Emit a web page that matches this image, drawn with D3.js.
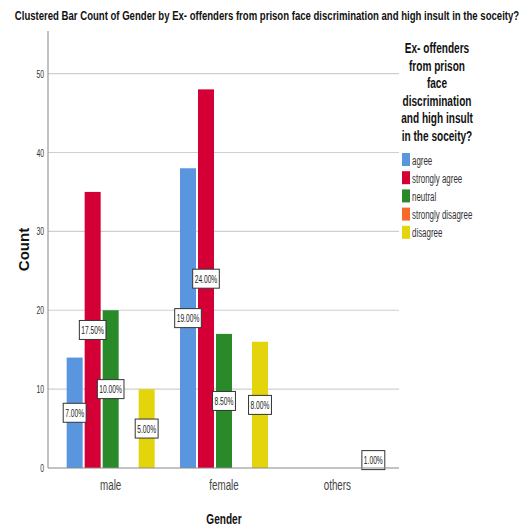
<!DOCTYPE html>
<html><head><meta charset="utf-8">
<script src="https://cdn.jsdelivr.net/npm/d3@7"></script>
<style>
body{margin:0;background:#fff;}
text{font-family:"Liberation Sans",Arial,sans-serif;}
</style></head>
<body><svg id="c" width="527" height="529"></svg>
<script>
const genders = ["male", "female", "others"];
const responses = ["agree", "strongly agree", "neutral", "strongly disagree", "disagree"];
const colors = ["#5a96e0", "#d40035", "#2a8a2a", "#f76a2a", "#e3d40c"];
const maleValues = [14, 35, 20, 0, 10];
const femaleValues = [38, 48, 17, 0, 16];
const othersValues = [0, 0, 0, 0, 2];
const yTicks = [0, 10, 20, 30, 40, 50];
const titleText = "Clustered Bar Count of Gender  by Ex- offenders from prison face discrimination and high insult in the soceity?";
const legendTitle = ["Ex- offenders", "from prison", "face", "discrimination", "and high insult", "in the soceity?"];

const values = [maleValues, femaleValues, othersValues];
const total = d3.sum(values.flat());

function condense(sel, f) {
  sel.each(function() {
    const L = this.getComputedTextLength();
    d3.select(this).attr("textLength", L * f).attr("lengthAdjust", "spacingAndGlyphs");
  });
}

const svg = d3.select("#c");
const pLeft = 48, pRight = 399, pTop = 31, pBottom = 468;

const y = d3.scaleLinear().domain([0, 55.4]).range([pBottom, pTop]);
const x0 = d3.scaleBand().domain(genders).range([54, 394]);
const x1 = d3.scaleBand().domain(responses).range([0, 88]).paddingInner(2/18);
const color = d3.scaleOrdinal().domain(responses).range(colors);

// title (horizontally scaled to mimic a narrow face)
const title = svg.append("text").attr("x", 0).attr("y", 0).attr("text-anchor", "middle")
  .attr("font-size", 13.5).attr("font-weight", "bold").attr("fill", "#111").text(titleText);
const tw = title.node().getComputedTextLength();
title.attr("transform", `translate(267,20) scale(${505 / tw},1)`);

// gridlines
svg.append("g").selectAll("line").data(yTicks.filter(d => d > 0)).join("line")
  .attr("x1", pLeft).attr("x2", pRight).attr("y1", d => y(d)).attr("y2", d => y(d))
  .attr("stroke", "#cfcfcf").attr("stroke-width", 1.2);

// y axis
const yAxis = svg.append("g").attr("transform", `translate(${pLeft},0)`)
  .call(d3.axisLeft(y).tickValues(yTicks).tickSize(0).tickPadding(4));
yAxis.select(".domain").remove();
yAxis.selectAll("text").attr("font-size", 11).attr("fill", "#333")
  .attr("font-family", '"Liberation Sans",Arial,sans-serif').call(condense, 0.62);
svg.append("line").attr("x1", pLeft).attr("x2", pLeft).attr("y1", pTop).attr("y2", pBottom)
  .attr("stroke", "#999").attr("stroke-width", 1.2);

// bars
const groups = svg.append("g").selectAll("g").data(genders).join("g")
  .attr("transform", d => `translate(${x0(d) + x0.bandwidth()/2 - 44},0)`);
groups.selectAll("rect").data((g, i) => responses.map((r, j) => ({r, v: values[i][j]})))
  .join("rect")
  .attr("x", d => x1(d.r)).attr("width", x1.bandwidth())
  .attr("y", d => y(d.v)).attr("height", d => y(0) - y(d.v))
  .attr("fill", d => color(d.r));

// x axis
svg.append("line").attr("x1", pLeft).attr("x2", pRight).attr("y1", pBottom).attr("y2", pBottom)
  .attr("stroke", "#888").attr("stroke-width", 1.2);
const xAxis = svg.append("g").attr("transform", `translate(0,${pBottom})`)
  .call(d3.axisBottom(x0).tickSize(0).tickPadding(12));
xAxis.select(".domain").remove();
xAxis.selectAll("text").attr("font-size", 14).attr("fill", "#444")
  .attr("font-family", '"Liberation Sans",Arial,sans-serif').call(condense, 0.7);

// data labels
groups.each(function(g, i) {
  const grp = d3.select(this);
  responses.forEach((r, j) => {
    const v = values[i][j];
    if (!v) return;
    const cx = x1(r) + x1.bandwidth()/2;
    const cy = (y(0) + y(v)) / 2;
    const lg = grp.append("g");
    const t = lg.append("text").attr("x", cx).attr("y", cy + 4).attr("text-anchor", "middle")
      .attr("font-size", 11.5).attr("fill", "#222").text((v / total * 100).toFixed(2) + "%");
    t.call(condense, 0.58);
    const w = +t.attr("textLength");
    lg.insert("rect", "text").attr("x", cx - w/2 - 2).attr("y", cy - 9.5)
      .attr("width", w + 4).attr("height", 19)
      .attr("fill", "#fff").attr("stroke", "#333").attr("stroke-width", 1);
  });
});

// axis titles
svg.append("text").attr("transform", `translate(29,${(pTop + pBottom)/2}) rotate(-90)`)
  .attr("text-anchor", "middle").attr("font-size", 15).attr("font-weight", "bold")
  .attr("fill", "#111").text("Count");
svg.append("text").attr("x", 224).attr("y", 524).attr("text-anchor", "middle")
  .attr("font-size", 14).attr("font-weight", "bold")
  .attr("fill", "#111").text("Gender").call(condense, 0.72);

// legend
const lt = svg.append("text").attr("text-anchor", "middle").attr("font-size", 14)
  .attr("font-weight", "bold").attr("fill", "#111");
legendTitle.forEach((line, i) => {
  lt.append("tspan").attr("x", 437).attr("y", 53 + i * 17.6).text(line);
});
lt.selectAll("tspan").call(condense, 0.72);
const leg = svg.append("g").selectAll("g").data(responses).join("g")
  .attr("transform", (d, i) => `translate(402,${160 + i * 18.2})`);
leg.append("rect").attr("x", 0).attr("y", -7).attr("width", 8).attr("height", 13)
  .attr("fill", d => color(d));
leg.append("text").attr("x", 10).attr("y", 4.5).attr("font-size", 12).attr("fill", "#333")
  .text(d => d).call(condense, 0.66);
</script></body></html>
